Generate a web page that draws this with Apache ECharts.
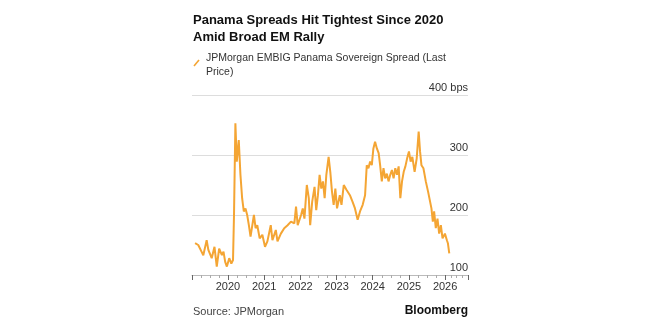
<!DOCTYPE html>
<html><head><meta charset="utf-8">
<script src="https://cdn.jsdelivr.net/npm/echarts@6/dist/echarts.min.js"></script>
<style>html,body{margin:0;padding:0;background:#fff}#c{width:660px;height:330px}</style>
</head><body><div id="c"></div>
<script>
const titleText = "Panama Spreads Hit Tightest Since 2020\nAmid Broad EM Rally";
const seriesName = "JPMorgan EMBIG Panama Sovereign Spread (Last\nPrice)";
const sourceText = "Source: JPMorgan";
const yTicks = [100, 200, 300, 400];
const dates = [
"2019-02-03","2019-03-07","2019-04-09","2019-04-27","2019-05-31","2019-06-17","2019-07-21","2019-08-18","2019-09-10","2019-10-04",
"2019-11-01","2019-11-17","2019-12-04","2019-12-21","2020-01-14","2020-02-04","2020-02-21","2020-03-02","2020-03-16","2020-03-30",
"2020-04-19","2020-05-06","2020-05-23","2020-06-09","2020-06-26","2020-07-13","2020-07-30","2020-08-16","2020-09-19","2020-10-06",
"2020-10-23","2020-11-16","2020-12-13","2021-01-09","2021-02-02","2021-03-08","2021-03-25","2021-04-28","2021-05-15","2021-06-18",
"2021-07-22","2021-08-25","2021-09-28","2021-11-01","2021-11-18","2021-12-05","2022-01-08","2022-01-25","2022-02-11","2022-03-07",
"2022-03-27","2022-04-10","2022-04-30","2022-05-24","2022-06-10","2022-06-27","2022-07-14","2022-07-31","2022-08-17","2022-09-03",
"2022-09-20","2022-10-13","2022-10-30","2022-11-16","2022-12-03","2022-12-20","2023-01-06","2023-02-03","2023-02-20","2023-03-15",
"2023-04-11","2023-05-16","2023-06-12","2023-07-06","2023-08-02","2023-08-26","2023-09-22","2023-10-16","2023-11-02","2023-11-19",
"2023-12-06","2023-12-23","2024-01-08","2024-01-25","2024-02-12","2024-03-01","2024-03-16","2024-04-02","2024-04-19","2024-05-06",
"2024-05-23","2024-06-09","2024-06-26","2024-07-13","2024-07-30","2024-08-16","2024-09-02","2024-09-19","2024-10-06","2024-10-23",
"2024-11-09","2024-11-26","2024-12-13","2025-01-01","2025-01-18","2025-02-04","2025-02-27","2025-03-20","2025-04-09","2025-04-23",
"2025-05-07","2025-05-27","2025-06-20","2025-07-13","2025-08-02","2025-08-16","2025-08-30","2025-09-12","2025-09-29","2025-10-16",
"2025-11-02","2025-11-19","2025-12-06","2025-12-30","2026-01-19","2026-01-29","2026-02-12"
];
const spreads = [
153,150,139,133,158,142,128,147,114,144,
133,139,122,114,128,119,125,200,353,289,
325,267,228,206,211,200,183,164,200,178,
183,161,167,147,156,183,158,175,156,169,
178,183,189,186,214,183,200,211,194,250,
228,183,222,247,208,233,267,244,256,228,
267,297,272,239,217,244,211,233,217,250,
242,233,222,211,192,206,217,233,283,278,
289,283,311,322,311,303,283,256,278,261,
269,256,267,275,261,278,267,281,228,256,
272,281,294,306,289,297,272,294,339,306,
283,278,256,239,242,211,189,206,178,194,
169,183,161,169,158,153,136
];
const chart = echarts.init(document.getElementById('c'), null, {renderer: 'canvas'});
const FONT = '"Liberation Sans", Arial, sans-serif';
chart.setOption({
  animation: false,
  backgroundColor: '#fff',
  title: {
    text: titleText, left: 193, top: 12, padding: 0,
    textStyle: {fontFamily: FONT, fontSize: 13, fontWeight: 'bold', color: '#111', lineHeight: 17}
  },
  grid: {left: 192, right: 192, top: 95, bottom: 55, containLabel: false},
  xAxis: {
    type: 'time', min: '2019-01-03', max: '2026-08-20',
    minInterval: 365 * 24 * 3600 * 1000, maxInterval: 366 * 24 * 3600 * 1000,
    axisLine: {show: true, lineStyle: {color: '#bbb', width: 1}},
    axisTick: {show: true, length: 5, lineStyle: {color: '#666'}},
    minorTick: {show: true, splitNumber: 4, length: 3, lineStyle: {color: '#aaa'}},
    splitLine: {show: false},
    axisLabel: {formatter: '{yyyy}', fontFamily: FONT, fontSize: 11, color: '#333', margin: 6,
      showMinLabel: false, showMaxLabel: false}
  },
  yAxis: {
    type: 'value', position: 'right', min: 100, max: 400, interval: 100,
    axisLine: {show: false}, axisTick: {show: false},
    splitLine: {show: true, lineStyle: {color: '#ddd', width: 1}},
    axisLabel: {inside: true, margin: 0, verticalAlign: 'bottom', padding: [0, 0, 2, 0],
      fontFamily: FONT, fontSize: 11, color: '#333',
      formatter: v => (v === yTicks[yTicks.length - 1] ? v + ' bps' : String(v))}
  },
  series: [{
    name: seriesName, type: 'line', showSymbol: false, symbol: 'none',
    lineStyle: {color: '#F4A534', width: 2}, itemStyle: {color: '#F4A534'},
    data: dates.map((d, i) => [d, spreads[i]])
  }],
  graphic: [
    {type: 'line', shape: {x1: 194, y1: 66, x2: 199, y2: 60}, style: {stroke: '#F4A534', lineWidth: 1.6}},
    {type: 'text', left: 206, top: 51, style: {text: seriesName, font: '10.5px ' + FONT, fill: '#333', lineHeight: 14}},
    {type: 'text', left: 193, top: 306, style: {text: sourceText, font: '11px ' + FONT, fill: '#444'}},
    {type: 'text', right: 192, top: 305, style: {text: 'Bloomberg', font: 'bold 12px ' + FONT, fill: '#111', textAlign: 'right'}}
  ]
});
</script></body></html>
